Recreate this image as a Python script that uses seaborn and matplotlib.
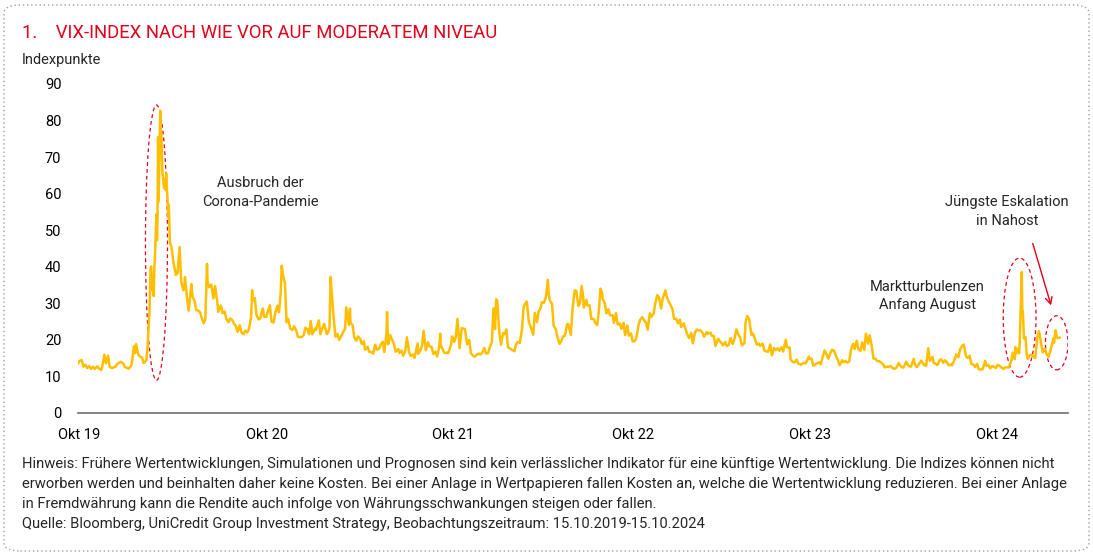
import matplotlib
matplotlib.use("Agg")
import matplotlib.pyplot as plt
import matplotlib.dates as mdates
from matplotlib.patches import Ellipse, FancyBboxPatch
import seaborn as sns
import pandas as pd

# VIX closes (selected trading days), per year: "MM-DD" and value
d2019 = ["10-15", "10-18", "10-22", "10-25", "10-29", "11-01", "11-05", "11-08", "11-12", "11-15",
         "11-20", "11-22", "11-27", "11-29", "12-03", "12-06", "12-10", "12-13", "12-17", "12-20",
         "12-24", "12-27", "12-31"]
v2019 = [13.54, 14.25, 14.46, 12.65, 13.20, 12.30, 12.83, 12.07, 12.68, 12.05,
         12.78, 12.34, 11.75, 12.62, 15.96, 13.62, 15.68, 12.63, 12.29, 12.51,
         12.67, 13.43, 13.78]

d2020 = ["01-03", "01-08", "01-10", "01-14", "01-17", "01-22", "01-24", "01-27", "01-29", "01-31",
         "02-04", "02-07", "02-11", "02-14", "02-19", "02-21", "02-24", "02-25", "02-27", "02-28",
         "03-02", "03-03", "03-04", "03-05", "03-06", "03-09", "03-10", "03-11", "03-12", "03-13",
         "03-16", "03-17", "03-18", "03-19", "03-20", "03-23", "03-24", "03-25", "03-26", "03-27",
         "03-30", "03-31", "04-01", "04-02", "04-03", "04-06", "04-08", "04-09", "04-14", "04-17",
         "04-21", "04-24", "04-28", "04-30", "05-01", "05-05", "05-08", "05-13", "05-15", "05-19",
         "05-22", "05-26", "05-29", "06-02", "06-05", "06-08", "06-11", "06-12", "06-15", "06-19",
         "06-23", "06-26", "06-30", "07-02", "07-07", "07-10", "07-14", "07-17", "07-21", "07-24",
         "07-28", "07-31", "08-04", "08-07", "08-11", "08-14", "08-18", "08-21", "08-25", "08-28",
         "09-01", "09-03", "09-04", "09-08", "09-11", "09-15", "09-18", "09-21", "09-23", "09-25",
         "09-29", "10-02", "10-06", "10-09", "10-13", "10-16", "10-20", "10-23", "10-26", "10-28",
         "10-30", "11-03", "11-06", "11-09", "11-13", "11-17", "11-20", "11-24", "11-27", "12-01",
         "12-04", "12-08", "12-11", "12-15", "12-18", "12-21", "12-24", "12-29", "12-31"]
v2020 = [14.02, 13.45, 12.56, 12.39, 12.10, 12.91, 14.56, 18.23, 16.39, 18.84,
         16.05, 15.47, 15.18, 13.68, 14.38, 17.08, 25.03, 27.85, 39.16, 40.11,
         33.42, 36.82, 31.99, 39.62, 41.94, 54.46, 47.30, 53.90, 75.47, 57.83,
         82.69, 75.91, 76.45, 72.00, 66.04, 61.59, 61.67, 63.95, 61.00, 65.54,
         57.08, 53.54, 57.06, 50.91, 46.80, 45.24, 43.35, 41.67, 37.76, 38.15,
         45.41, 35.93, 33.57, 34.15, 37.19, 31.23, 27.98, 35.28, 31.89, 30.53,
         28.16, 28.01, 27.51, 25.66, 24.52, 25.81, 40.79, 36.09, 34.40, 35.12,
         31.37, 34.73, 30.43, 27.68, 29.43, 27.29, 27.76, 25.68, 24.84, 25.84,
         25.44, 24.46, 23.76, 22.21, 24.03, 22.05, 21.51, 22.54, 22.03, 22.96,
         26.12, 33.60, 30.75, 31.46, 26.87, 25.59, 25.83, 27.78, 28.58, 26.38,
         26.27, 27.63, 29.48, 25.00, 24.73, 27.41, 29.35, 27.55, 32.46, 40.28,
         38.02, 35.55, 24.86, 25.75, 23.10, 22.71, 23.70, 22.66, 20.84, 20.77,
         20.79, 21.30, 23.31, 22.89, 21.57, 25.16, 21.53, 23.08, 22.75]

d2021 = ["01-05", "01-08", "01-12", "01-15", "01-20", "01-22", "01-25", "01-27", "01-29", "02-02",
         "02-05", "02-09", "02-12", "02-17", "02-19", "02-23", "02-25", "02-26", "03-02", "03-04",
         "03-05", "03-09", "03-12", "03-16", "03-19", "03-23", "03-26", "03-30", "04-01", "04-06",
         "04-09", "04-13", "04-16", "04-20", "04-23", "04-27", "04-30", "05-04", "05-07", "05-11",
         "05-12", "05-14", "05-18", "05-21", "05-25", "05-28", "06-02", "06-04", "06-08", "06-11",
         "06-15", "06-18", "06-22", "06-25", "06-29", "07-02", "07-08", "07-09", "07-13", "07-16",
         "07-19", "07-23", "07-27", "07-30", "08-03", "08-06", "08-10", "08-13", "08-17", "08-19",
         "08-20", "08-24", "08-27", "08-31", "09-03", "09-08", "09-10", "09-14", "09-17", "09-20",
         "09-24", "09-28", "09-30", "10-04", "10-08", "10-12", "10-15", "10-19", "10-22", "10-26",
         "10-29", "11-02", "11-05", "11-09", "11-12", "11-16", "11-19", "11-23", "11-26", "11-29",
         "11-30", "12-01", "12-03", "12-07", "12-10", "12-14", "12-17", "12-20", "12-23", "12-28",
         "12-31"]
v2021 = [25.34, 21.56, 23.33, 24.34, 21.58, 21.91, 23.19, 37.21, 33.09, 25.56,
         20.87, 21.63, 19.97, 21.50, 22.05, 23.11, 28.89, 27.95, 24.10, 28.57,
         24.66, 24.03, 20.69, 19.79, 20.95, 20.30, 18.86, 19.61, 17.33, 18.12,
         16.69, 16.65, 16.25, 18.68, 17.33, 17.56, 18.61, 19.48, 16.69, 21.84,
         27.59, 18.81, 21.34, 20.15, 18.84, 16.76, 17.48, 16.42, 17.07, 15.65,
         17.02, 20.70, 16.66, 15.62, 16.02, 15.07, 19.00, 16.18, 17.12, 18.45,
         22.50, 17.20, 19.36, 18.24, 18.04, 16.15, 16.79, 15.45, 17.91, 21.67,
         18.56, 17.22, 16.39, 16.48, 16.41, 18.69, 20.95, 19.46, 20.81, 25.71,
         17.75, 23.25, 23.14, 22.96, 18.77, 20.00, 16.30, 15.70, 15.43, 15.98,
         16.26, 16.03, 16.48, 17.78, 16.29, 16.37, 17.91, 19.38, 28.62, 22.96,
         27.19, 31.12, 30.67, 21.89, 18.69, 21.89, 21.57, 22.87, 17.96, 17.54,
         17.22]

d2022 = ["01-04", "01-07", "01-10", "01-14", "01-18", "01-21", "01-24", "01-27", "01-31", "02-04",
         "02-08", "02-11", "02-15", "02-18", "02-22", "02-24", "02-28", "03-04", "03-07", "03-09",
         "03-11", "03-15", "03-18", "03-22", "03-25", "03-29", "04-01", "04-05", "04-08", "04-12",
         "04-14", "04-19", "04-22", "04-26", "04-29", "05-03", "05-06", "05-09", "05-12", "05-13",
         "05-18", "05-20", "05-24", "05-27", "06-01", "06-03", "06-07", "06-10", "06-13", "06-16",
         "06-17", "06-21", "06-24", "06-28", "07-01", "07-06", "07-08", "07-12", "07-15", "07-19",
         "07-22", "07-26", "07-29", "08-02", "08-05", "08-09", "08-12", "08-16", "08-19", "08-23",
         "08-26", "08-30", "09-02", "09-06", "09-09", "09-13", "09-16", "09-20", "09-23", "09-27",
         "09-30", "10-04", "10-07", "10-12", "10-14", "10-18", "10-21", "10-25", "10-28", "11-01",
         "11-04", "11-08", "11-10", "11-15", "11-18", "11-22", "11-25", "11-29", "12-02", "12-06",
         "12-09", "12-13", "12-16", "12-20", "12-23", "12-28", "12-30"]
v2022 = [16.91, 18.76, 19.40, 19.19, 22.79, 28.85, 29.90, 30.49, 24.83, 23.22,
         21.44, 27.36, 24.87, 27.75, 28.81, 30.32, 30.15, 31.98, 36.45, 32.45,
         30.75, 29.83, 23.87, 22.94, 20.81, 18.90, 19.63, 21.03, 21.16, 24.26,
         24.37, 21.37, 28.21, 33.52, 33.40, 29.25, 30.19, 34.75, 31.77, 28.87,
         30.96, 29.43, 29.45, 25.72, 25.69, 24.79, 24.02, 27.75, 34.02, 32.95,
         31.13, 30.19, 27.23, 28.36, 26.70, 26.73, 24.64, 27.29, 24.23, 24.50,
         23.03, 24.69, 21.33, 23.93, 21.15, 21.77, 19.53, 19.69, 20.60, 24.11,
         25.56, 26.21, 25.47, 24.64, 22.79, 27.27, 26.30, 27.16, 29.92, 32.27,
         31.62, 28.55, 31.36, 33.57, 32.02, 30.50, 29.69, 28.46, 25.75, 25.81,
         24.55, 25.54, 23.53, 24.54, 23.12, 21.36, 20.50, 21.89, 19.06, 22.01,
         22.83, 22.55, 22.62, 21.97, 20.87, 22.14, 21.67]

d2023 = ["01-04", "01-06", "01-10", "01-13", "01-18", "01-20", "01-24", "01-27", "01-31", "02-03",
         "02-07", "02-10", "02-14", "02-17", "02-21", "02-24", "02-28", "03-03", "03-08", "03-10",
         "03-13", "03-15", "03-17", "03-21", "03-24", "03-28", "03-31", "04-04", "04-06", "04-11",
         "04-14", "04-18", "04-21", "04-25", "04-28", "05-02", "05-05", "05-09", "05-12", "05-16",
         "05-19", "05-24", "05-26", "05-31", "06-02", "06-06", "06-09", "06-13", "06-16", "06-21",
         "06-23", "06-27", "06-30", "07-06", "07-07", "07-11", "07-14", "07-18", "07-21", "07-25",
         "07-28", "08-02", "08-04", "08-08", "08-11", "08-15", "08-18", "08-22", "08-25", "08-29",
         "09-01", "09-06", "09-08", "09-12", "09-15", "09-19", "09-22", "09-26", "09-29", "10-03",
         "10-06", "10-10", "10-13", "10-17", "10-20", "10-24", "10-27", "10-31", "11-03", "11-07",
         "11-10", "11-14", "11-17", "11-21", "11-24", "11-28", "12-01", "12-05", "12-08", "12-12",
         "12-15", "12-20", "12-22", "12-27", "12-29"]
v2023 = [22.01, 21.13, 21.06, 18.35, 20.34, 19.85, 19.20, 18.51, 19.40, 18.33,
         18.66, 20.53, 18.91, 20.02, 22.87, 21.67, 20.70, 18.49, 19.11, 24.80,
         26.52, 26.14, 25.51, 21.38, 21.74, 19.97, 18.70, 19.00, 18.40, 18.97,
         17.07, 16.83, 16.77, 18.76, 15.78, 17.78, 17.19, 17.71, 17.03, 17.99,
         16.81, 20.03, 17.95, 17.94, 14.60, 13.96, 13.83, 14.61, 13.54, 13.20,
         13.44, 13.74, 13.59, 15.44, 14.83, 14.84, 12.91, 13.30, 13.60, 13.86,
         13.33, 15.99, 17.10, 15.99, 14.84, 16.46, 17.30, 16.97, 15.68, 14.45,
         13.09, 14.45, 13.84, 14.23, 13.79, 14.11, 17.20, 18.94, 17.52, 19.78,
         17.45, 17.03, 19.32, 17.21, 21.71, 18.97, 21.27, 18.14, 14.91, 14.81,
         14.17, 14.16, 13.80, 13.35, 12.46, 12.69, 12.63, 12.85, 12.35, 12.07,
         12.28, 13.67, 13.03, 12.43, 12.45]

d2024 = ["01-03", "01-05", "01-09", "01-12", "01-17", "01-19", "01-23", "01-26", "01-31", "02-02",
         "02-06", "02-09", "02-13", "02-16", "02-21", "02-23", "02-27", "03-01", "03-05", "03-08",
         "03-12", "03-15", "03-19", "03-22", "03-26", "03-28", "04-02", "04-05", "04-09", "04-12",
         "04-16", "04-19", "04-23", "04-26", "04-30", "05-03", "05-07", "05-10", "05-14", "05-17",
         "05-21", "05-24", "05-29", "05-31", "06-04", "06-07", "06-11", "06-14", "06-18", "06-21",
         "06-25", "06-28", "07-02", "07-05", "07-09", "07-12", "07-17", "07-19", "07-23", "07-24",
         "07-26", "07-30", "07-31", "08-01", "08-02", "08-05", "08-06", "08-07", "08-08", "08-09",
         "08-12", "08-14", "08-16", "08-20", "08-23", "08-27", "08-30", "09-03", "09-04", "09-06",
         "09-10", "09-13", "09-17", "09-20", "09-24", "09-27", "10-01", "10-03", "10-04", "10-07",
         "10-09", "10-11", "10-15"]
v2024 = [14.04, 13.35, 12.76, 12.70, 14.79, 13.30, 12.55, 13.26, 14.35, 13.85,
         13.06, 12.93, 17.71, 14.24, 15.34, 13.75, 13.43, 13.11, 14.46, 14.74,
         13.75, 14.41, 13.82, 13.06, 13.24, 13.01, 14.61, 16.03, 15.23, 17.31,
         18.40, 18.71, 15.69, 15.03, 15.65, 13.49, 13.23, 12.55, 13.42, 11.99,
         11.86, 11.93, 14.28, 12.92, 13.16, 12.22, 12.85, 12.66, 12.30, 13.20,
         12.84, 12.44, 12.03, 12.48, 12.51, 12.46, 14.48, 16.52, 14.72, 18.04,
         16.39, 17.69, 16.36, 18.59, 23.39, 38.57, 27.71, 27.85, 23.79, 20.37,
         20.71, 16.19, 14.80, 15.88, 15.86, 15.43, 15.00, 20.72, 21.32, 22.38,
         19.08, 16.56, 17.61, 16.15, 15.39, 16.96, 19.26, 20.49, 19.21, 22.64,
         20.86, 20.46, 20.64]

tick_dates = ["2019-10-17", "2020-10-01", "2021-09-12", "2022-08-13", "2023-07-08", "2024-06-20"]
tick_labels = ["Okt 19", "Okt 20", "Okt 21", "Okt 22", "Okt 23", "Okt 24"]

title = "1.    VIX-INDEX NACH WIE VOR AUF MODERATEM NIVEAU"
footer = [
    "Hinweis: Frühere Wertentwicklungen, Simulationen und Prognosen sind kein verlässlicher Indikator für eine künftige Wertentwicklung. Die Indizes können nicht",
    "erworben werden und beinhalten daher keine Kosten. Bei einer Anlage in Wertpapieren fallen Kosten an, welche die Wertentwicklung reduzieren. Bei einer Anlage",
    "in Fremdwährung kann die Rendite auch infolge von Währungsschwankungen steigen oder fallen.",
    "Quelle: Bloomberg, UniCredit Group Investment Strategy, Beobachtungszeitraum: 15.10.2019-15.10.2024",
]

RED = "#E2001A"
YELLOW = "#FFBF00"

rows = []
for year, days, vals in [(2019, d2019, v2019), (2020, d2020, v2020), (2021, d2021, v2021),
                         (2022, d2022, v2022), (2023, d2023, v2023), (2024, d2024, v2024)]:
    for d, v in zip(days, vals):
        rows.append((pd.Timestamp(f"{year}-{d}"), v))
df = pd.DataFrame(rows, columns=["date", "vix"])

sns.set_style("white")
plt.rcParams["font.family"] = ["Roboto", "DejaVu Sans"]

fig = plt.figure(figsize=(10.93, 5.55), dpi=100)
ax = fig.add_axes([78 / 1093, 1 - 413 / 555, 990 / 1093, 329 / 555])

sns.lineplot(data=df, x="date", y="vix", ax=ax, color=YELLOW, linewidth=1.8)

ax.set_ylim(0, 90)
ax.set_yticks(range(0, 91, 10))
ax.set_xlim(pd.Timestamp("2019-10-15"), pd.Timestamp("2024-10-30"))
ax.set_xticks(pd.to_datetime(tick_dates))
ax.set_xticklabels(tick_labels)
ax.set_xlabel("")
ax.set_ylabel("")
ax.tick_params(axis="both", length=0, labelsize=10.5, colors="black")
ax.tick_params(axis="y", pad=12)
ax.tick_params(axis="x", pad=11)
for side in ["top", "right", "left"]:
    ax.spines[side].set_visible(False)
ax.spines["bottom"].set_color("#707070")
ax.spines["bottom"].set_linewidth(1.2)

# highlighted episodes
def add_ellipse(center, width_days, y_center, height):
    e = Ellipse((mdates.date2num(pd.Timestamp(center)), y_center), width_days, height,
                fill=False, edgecolor=RED, linestyle=(0, (3, 2.5)), linewidth=0.9)
    ax.add_patch(e)

add_ellipse("2020-03-09", 41, 46.6, 75.3)
add_ellipse("2024-08-01", 61, 26.1, 32.6)
add_ellipse("2024-10-09", 42, 19.2, 14.8)

ax.text(pd.Timestamp("2020-09-18"), 60.2, "Ausbruch der\nCorona-Pandemie", ha="center", va="center",
        fontsize=10.5, linespacing=1.45)
ax.text(pd.Timestamp("2024-02-11"), 32.0, "Marktturbulenzen\nAnfang August",
        ha="center", va="center", fontsize=10.5, linespacing=1.45)
ax.text(pd.Timestamp("2024-07-09"), 55.0, "Jüngste Eskalation\nin Nahost", ha="center", va="center",
        fontsize=10.5, linespacing=1.45)
ax.annotate("", xy=(pd.Timestamp("2024-09-30"), 28.7), xytext=(pd.Timestamp("2024-08-24"), 47.1),
            arrowprops=dict(arrowstyle="->", color=RED, lw=1.0, mutation_scale=12))

fig.text(22 / 1093, 1 - 33 / 555, title, color=RED, fontsize=13.3, va="center", ha="left")
fig.text(22 / 1093, 1 - 60 / 555, "Indexpunkte", fontsize=10.5, va="center", ha="left")
for i, line in enumerate(footer):
    fig.text(22 / 1093, 1 - (464 + 20 * i) / 555, line, fontsize=10.6, va="center", ha="left")

border = FancyBboxPatch((4 / 1093, 4 / 555), 1085 / 1093, 546 / 555,
                        boxstyle="round,pad=0,rounding_size=0.015", transform=fig.transFigure,
                        fill=False, edgecolor="#A0A0A0", linestyle=(0, (1, 2)), linewidth=1.0)
fig.patches.append(border)

fig.savefig("out.png", dpi=100)
